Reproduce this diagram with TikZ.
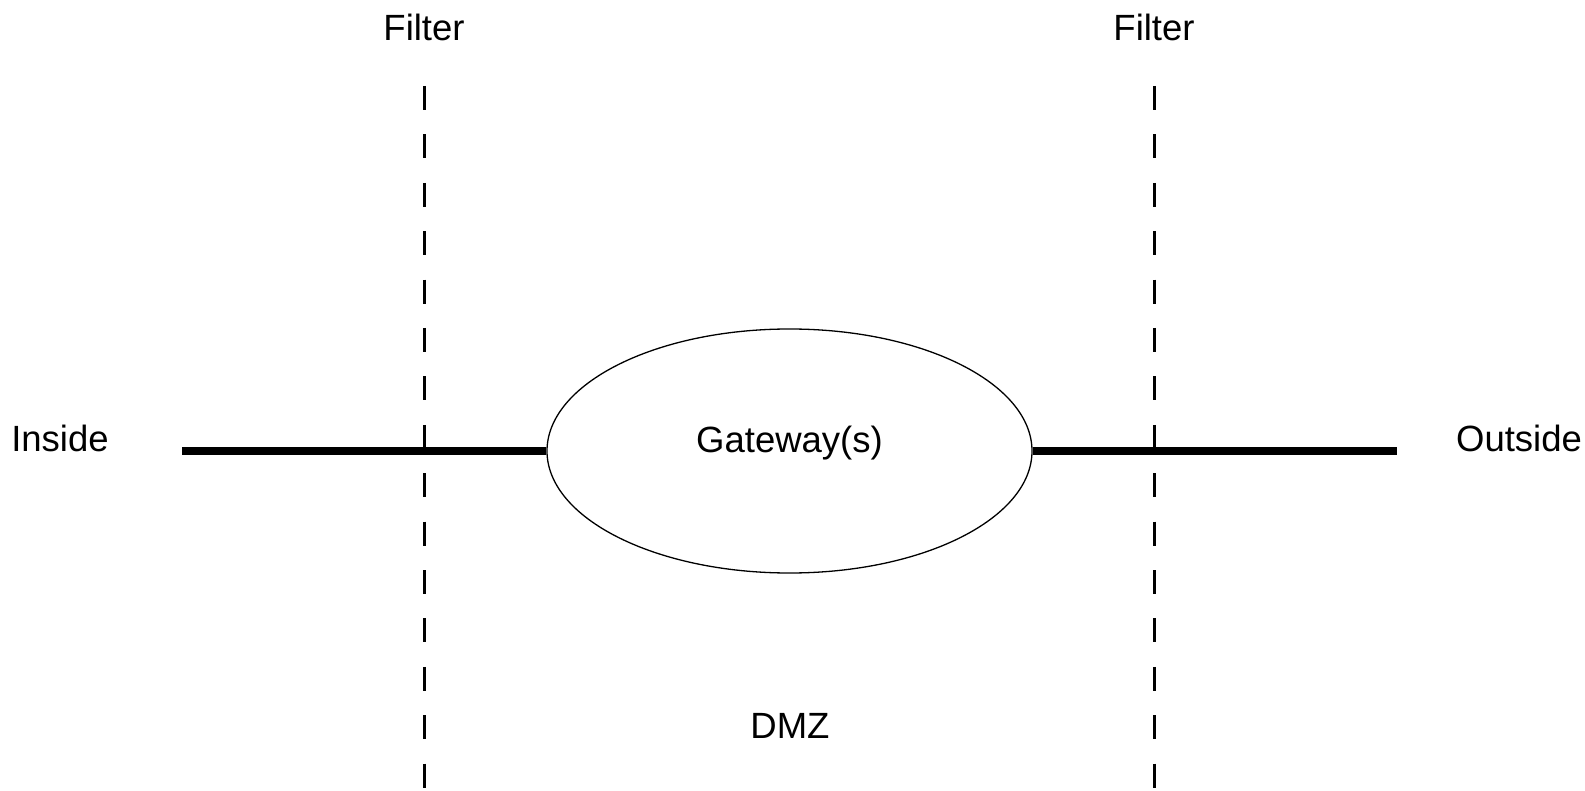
\documentclass[tikz,border=0pt]{standalone}
\usepackage{fontspec}
\setmainfont{Liberation Sans}
\usetikzlibrary{shapes.geometric}
\begin{document}
\begin{tikzpicture}[x=1pt,y=-1pt,
  lbl/.style={anchor=base, inner sep=0pt, font=\fontsize{36.5}{44}\selectfont},
  wire/.style={line width=8pt},
  filterline/.style={line width=3pt, dash pattern=on 24pt off 24.4pt},
  gw/.style={draw, line width=1.3pt, ellipse, minimum width=485pt, minimum height=244pt, inner sep=0pt}]
\useasboundingbox (0,0) rectangle (1585,791);

% packet filters on both sides of the DMZ
\coordinate (f1top) at (424,86);
\coordinate (f1bot) at (424,791);
\coordinate (f2top) at (1154,86);
\coordinate (f2bot) at (1154,791);
\draw[filterline] (f1top) -- (f1bot);
\draw[filterline] (f2top) -- (f2bot);
\node[lbl] (filter1) at (424,41) {Filter};
\node[lbl] (filter2) at (1154,41) {Filter};

% gateway and the network wire through it
\node[gw] (gw) at (789.5,451) {};
\node[lbl] (gwlabel) at (789.5,453) {Gateway(s)};
\coordinate (inEnd) at (182,451);
\coordinate (outEnd) at (1397,451);
\draw[wire] (inEnd) -- (gw.west);
\draw[wire] (gw.east) -- (outEnd);

\node[lbl] (inside) at (60,451) {Inside};
\node[lbl] (outside) at (1519,451) {Outside};
\node[lbl] (dmz) at (790,738) {DMZ};
\end{tikzpicture}
\end{document}
